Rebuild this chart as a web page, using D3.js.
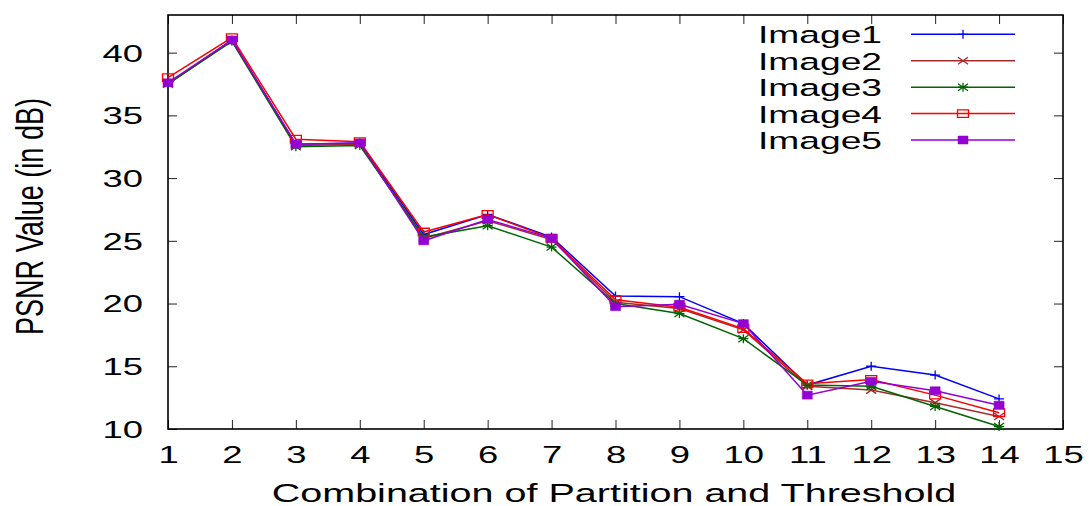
<!DOCTYPE html>
<html>
<head>
<meta charset="utf-8">
<script src="https://cdn.jsdelivr.net/npm/d3@7/dist/d3.min.js"></script>
<style>
    html, body { margin: 0; padding: 0; background: #fff; }
    svg text { font-family: "Liberation Sans", Arial, sans-serif; fill: #000; }
</style>
</head>
<body>
<svg id="chart" width="1091" height="506"></svg>
<script>
(function () {
    'use strict';

    // --- Data ----------------------------------------------------------

    var combos = [1, 2, 3, 4, 5, 6, 7, 8, 9, 10, 11, 12, 13, 14];
    var xTicks = [1, 2, 3, 4, 5, 6, 7, 8, 9, 10, 11, 12, 13, 14, 15];
    var yTicks = [10, 15, 20, 25, 30, 35, 40];
    var seriesNames = ['Image1', 'Image2', 'Image3', 'Image4', 'Image5'];

    var image1 = [37.5, 41.0, 32.7, 32.8, 25.5, 27.1, 25.3, 20.6, 20.55, 18.4, 13.5, 15.0, 14.3, 12.4];
    var image2 = [37.5, 41.0, 32.6, 32.7, 25.2, 26.6, 25.1, 20.1, 19.6, 17.9, 13.4, 13.1, 12.1, 11.0];
    var image3 = [37.5, 40.9, 32.5, 32.6, 25.3, 26.2, 24.5, 20.0, 19.2, 17.2, 13.5, 13.4, 11.8, 10.2];
    var image4 = [38.0, 41.2, 33.1, 32.9, 25.7, 27.1, 25.2, 20.3, 19.7, 18.0, 13.6, 13.95, 12.7, 11.3];
    var image5 = [37.6, 41.0, 32.7, 32.8, 25.0, 26.7, 25.2, 19.75, 19.95, 18.4, 12.7, 13.8, 13.05, 11.9];

    var seriesValues = [image1, image2, image3, image4, image5];
    var seriesColors = ['#0000ff', '#a52a2a', '#006400', '#ff0000', '#9400d3'];
    var seriesMarks = ['plus', 'cross', 'star', 'box', 'boxFill'];

    // --- Layout --------------------------------------------------------

    var plot = { left: 168, right: 1063, top: 15, bottom: 429 },
        sx = 1.55,          // the reference text is stretched sideways
        tickLen = 9;

    var svg = d3.select('#chart');

    var x = d3.scaleLinear().domain([1, 15]).range([plot.left, plot.right]),
        y = d3.scaleLinear().domain([10, 43]).range([plot.bottom, plot.top]);

    // --- Markers -------------------------------------------------------

    function markPath(kind) {
        var plus = 'M-5,0H5M0,-4.5V4.5',
            cross = 'M-5,-3.5L5,3.5M-5,3.5L5,-3.5';
        if (kind === 'plus') { return plus; }
        if (kind === 'cross') { return cross; }
        if (kind === 'star') { return plus + cross; }
        if (kind === 'box') { return 'M-5.5,-3.8H5.5V3.8H-5.5Z'; }
        return 'M-5,-4H5V4H-5Z';
    }

    function drawMark(g, kind, color) {
        var filled = kind === 'boxFill';
        return g.append('path')
            .attr('d', markPath(kind))
            .attr('fill', filled ? color : 'none')
            .attr('stroke', color)
            .attr('stroke-width', filled ? 0.5 : 1.3);
    }

    // --- Axes ----------------------------------------------------------

    function styleTicks(g) {
        g.select('.domain').remove();
        g.selectAll('.tick line').attr('stroke', '#222').attr('stroke-width', 1);
    }

    var xAxis = svg.append('g')
        .attr('transform', 'translate(0,' + plot.bottom + ')')
        .call(d3.axisBottom(x).tickValues(xTicks).tickFormat(d3.format('d'))
            .tickSizeInner(-tickLen).tickSizeOuter(0));
    styleTicks(xAxis);
    xAxis.selectAll('.tick text')
        .attr('y', 34).attr('dy', 0)
        .attr('font-size', '23.5px')
        .attr('font-family', null)
        .attr('transform', 'scale(' + sx + ',1)');

    svg.append('g')
        .attr('transform', 'translate(0,' + plot.top + ')')
        .call(d3.axisTop(x).tickValues(xTicks).tickFormat('')
            .tickSizeInner(-tickLen).tickSizeOuter(0))
        .call(styleTicks);

    var yAxis = svg.append('g')
        .attr('transform', 'translate(' + plot.left + ',0)')
        .call(d3.axisLeft(y).tickValues(yTicks).tickFormat(d3.format('d'))
            .tickSizeInner(-tickLen).tickSizeOuter(0));
    styleTicks(yAxis);
    yAxis.selectAll('.tick text')
        .attr('x', -25 / sx).attr('y', 8.4).attr('dy', 0)
        .attr('font-size', '23.5px')
        .attr('font-family', null)
        .attr('transform', 'scale(' + sx + ',1)');

    svg.append('g')
        .attr('transform', 'translate(' + plot.right + ',0)')
        .call(d3.axisRight(y).tickValues(yTicks).tickFormat('')
            .tickSizeInner(-tickLen).tickSizeOuter(0))
        .call(styleTicks);

    // frame round the plot
    svg.append('rect')
        .attr('x', plot.left).attr('y', plot.top)
        .attr('width', plot.right - plot.left)
        .attr('height', plot.bottom - plot.top)
        .attr('fill', 'none')
        .attr('stroke', '#000')
        .attr('stroke-width', 1.6);

    // axis titles
    svg.append('text')
        .attr('transform', 'translate(614,502) scale(' + sx + ',1)')
        .attr('text-anchor', 'middle')
        .attr('font-size', '25.5px')
        .text('Combination of Partition and Threshold');

    svg.append('text')
        .attr('transform', 'translate(43,216.5) scale(' + sx + ',1) rotate(-90)')
        .attr('text-anchor', 'middle')
        .attr('font-size', '25px')
        .attr('textLength', 237)
        .attr('lengthAdjust', 'spacingAndGlyphs')
        .text('PSNR Value (in dB)');

    // --- Series --------------------------------------------------------

    var line = d3.line()
        .x(function (d) { return x(d[0]); })
        .y(function (d) { return y(d[1]); });

    seriesNames.forEach(function (name, i) {
        var pts = combos.map(function (c, j) { return [c, seriesValues[i][j]]; }),
            g = svg.append('g').attr('class', 'series');

        g.append('path')
            .datum(pts)
            .attr('d', line)
            .attr('fill', 'none')
            .attr('stroke', seriesColors[i])
            .attr('stroke-width', 1.5);

        pts.forEach(function (p) {
            drawMark(g, seriesMarks[i], seriesColors[i])
                .attr('transform', 'translate(' + x(p[0]) + ',' + y(p[1]) + ')');
        });
    });

    // --- Legend --------------------------------------------------------

    var legend = svg.append('g').attr('class', 'legend'),
        rowY = [34.3, 60.8, 87.2, 113.6, 140];

    seriesNames.forEach(function (name, i) {
        var ly = rowY[i];
        // the reference labels run 757..882 px wide
        legend.append('text')
            .attr('transform', 'translate(882,' + (ly + 9) + ') scale(' + sx + ',1)')
            .attr('text-anchor', 'end')
            .attr('font-size', '23.5px')
            .attr('textLength', 124 / sx)
            .attr('lengthAdjust', 'spacingAndGlyphs')
            .text(name);
        legend.append('line')
            .attr('x1', 911).attr('x2', 1015)
            .attr('y1', ly).attr('y2', ly)
            .attr('stroke', seriesColors[i])
            .attr('stroke-width', 1.5);
        drawMark(legend, seriesMarks[i], seriesColors[i])
            .attr('transform', 'translate(963,' + ly + ')');
    });
}());
</script>
</body>
</html>
